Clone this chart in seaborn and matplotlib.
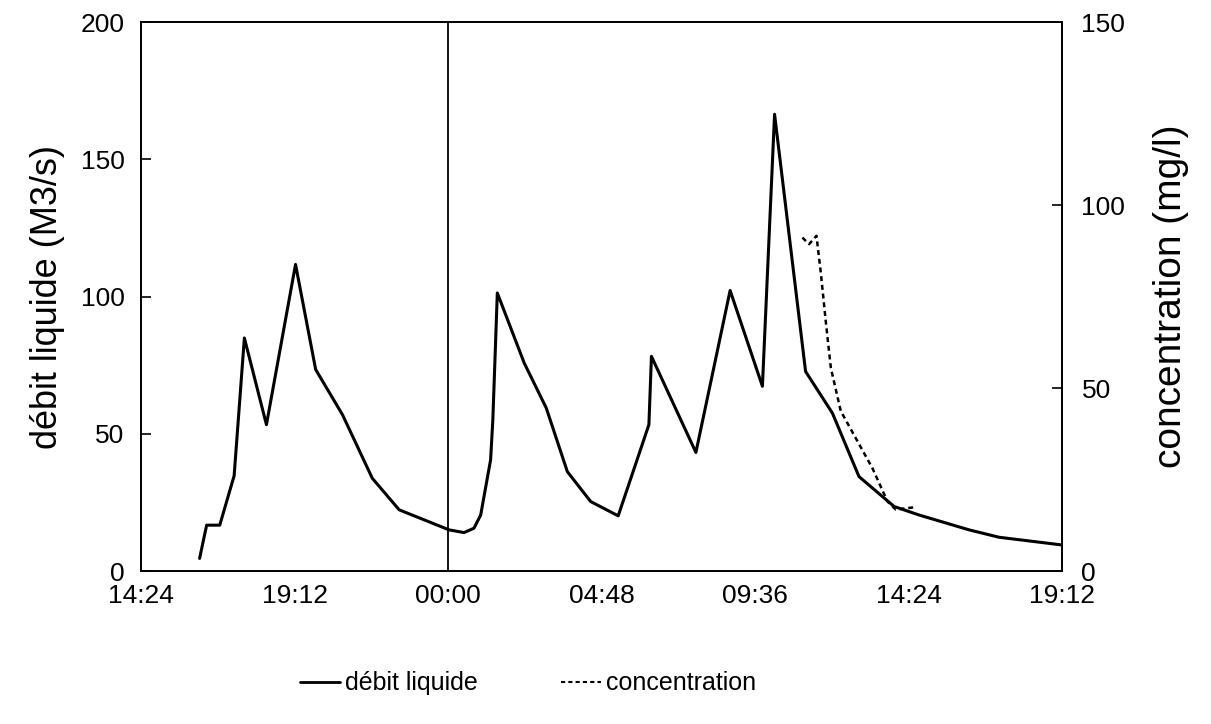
import matplotlib
matplotlib.use("Agg")
import matplotlib.pyplot as plt
import seaborn as sns
import pandas as pd
from matplotlib.lines import Line2D

# hours elapsed since 14:24 on day 1
debit_hours = [1.83, 2.05, 2.46, 2.91, 3.23, 3.92, 4.83, 5.46, 6.30, 7.23, 8.07, 9.63,
               10.10, 10.41, 10.62, 10.93, 11.00, 11.14, 11.98, 12.67, 13.33, 14.06, 14.92,
               15.88, 15.96, 17.35, 18.42, 19.43, 19.81, 20.78, 21.62, 22.45, 23.55, 24.33,
               25.89, 26.83, 28.79]
debit_values = [4.6, 16.7, 16.7, 34.7, 84.9, 53.3, 111.7, 73.4, 56.9, 33.8, 22.3, 15.0,
                14.0, 15.6, 20.4, 40.5, 55.1, 101.3, 75.8, 59.4, 36.2, 25.3, 20.1,
                53.3, 78.2, 43.2, 102.2, 67.3, 166.4, 72.7, 57.5, 34.4, 23.5, 20.4,
                15.0, 12.3, 9.5]

conc_hours = [20.68, 20.89, 21.12, 21.25, 21.41, 21.57, 21.88, 22.40, 22.87, 23.34, 23.60, 24.17]
conc_values = [91.1, 89.3, 91.6, 82.0, 68.3, 55.5, 43.7, 35.5, 28.1, 19.0, 16.8, 17.4]

tick_hours = [0, 4.8, 9.6, 14.4, 19.2, 24.0, 28.8]
tick_labels = ["14:24", "19:12", "00:00", "04:48", "09:36", "14:24", "19:12"]

sns.set_theme(style="white")
plt.rcParams['font.family'] = ['Liberation Sans', 'DejaVu Sans']

fig = plt.figure(figsize=(12.11, 7.24), dpi=100)
ax = fig.add_axes([0.1165, 0.2113, 0.7605, 0.7583])

df1 = pd.DataFrame({"h": debit_hours, "v": debit_values})
df2 = pd.DataFrame({"h": conc_hours, "v": conc_values})

sns.lineplot(data=df1, x="h", y="v", ax=ax, color="black", linewidth=2.2, sort=False)
ax.axvline(9.6, color="black", linewidth=1.3)

ax.set_xlim(0, 28.8)
ax.set_ylim(0, 200)
ax.set_xticks(tick_hours)
ax.set_xticklabels(tick_labels)
ax.set_yticks([0, 50, 100, 150, 200])
ax.set_xlabel("")
ax.set_ylabel("débit liquide (M3/s)", fontsize=26, labelpad=11, color="black")
ax.tick_params(axis="both", direction="in", length=7, width=1.2, labelsize=19, colors="black")
ax.tick_params(axis="x", pad=9)
ax.tick_params(axis="y", pad=12)
for s in ax.spines.values():
    s.set_color("black")
    s.set_linewidth(1.3)

ax2 = ax.twinx()
sns.lineplot(data=df2, x="h", y="v", ax=ax2, color="black", linewidth=1.8,
             linestyle=(0, (2, 1.5)), sort=False)
ax2.set_ylim(0, 150)
ax2.set_yticks([0, 50, 100, 150])
ax2.set_ylabel("concentration (mg/l)", fontsize=28, labelpad=20, color="black")
ax2.tick_params(axis="y", direction="in", length=7, width=1.2, labelsize=19, colors="black", pad=14)
ax2.set_xlim(0, 28.8)
for s in ax2.spines.values():
    s.set_color("black")
    s.set_linewidth(1.3)

handles = [Line2D([], [], color="black", linewidth=2.0),
           Line2D([], [], color="black", linewidth=1.5, linestyle=(0, (2, 1.5)))]
leg = fig.legend(handles, ["débit liquide", "concentration"], loc="center",
                 bbox_to_anchor=(0.436, 0.056), ncol=2, frameon=False, fontsize=18,
                 handlelength=1.6, handletextpad=0.2, columnspacing=3.3)
for t in leg.get_texts():
    t.set_color("black")

fig.savefig("out.png", dpi=100, facecolor="white")
